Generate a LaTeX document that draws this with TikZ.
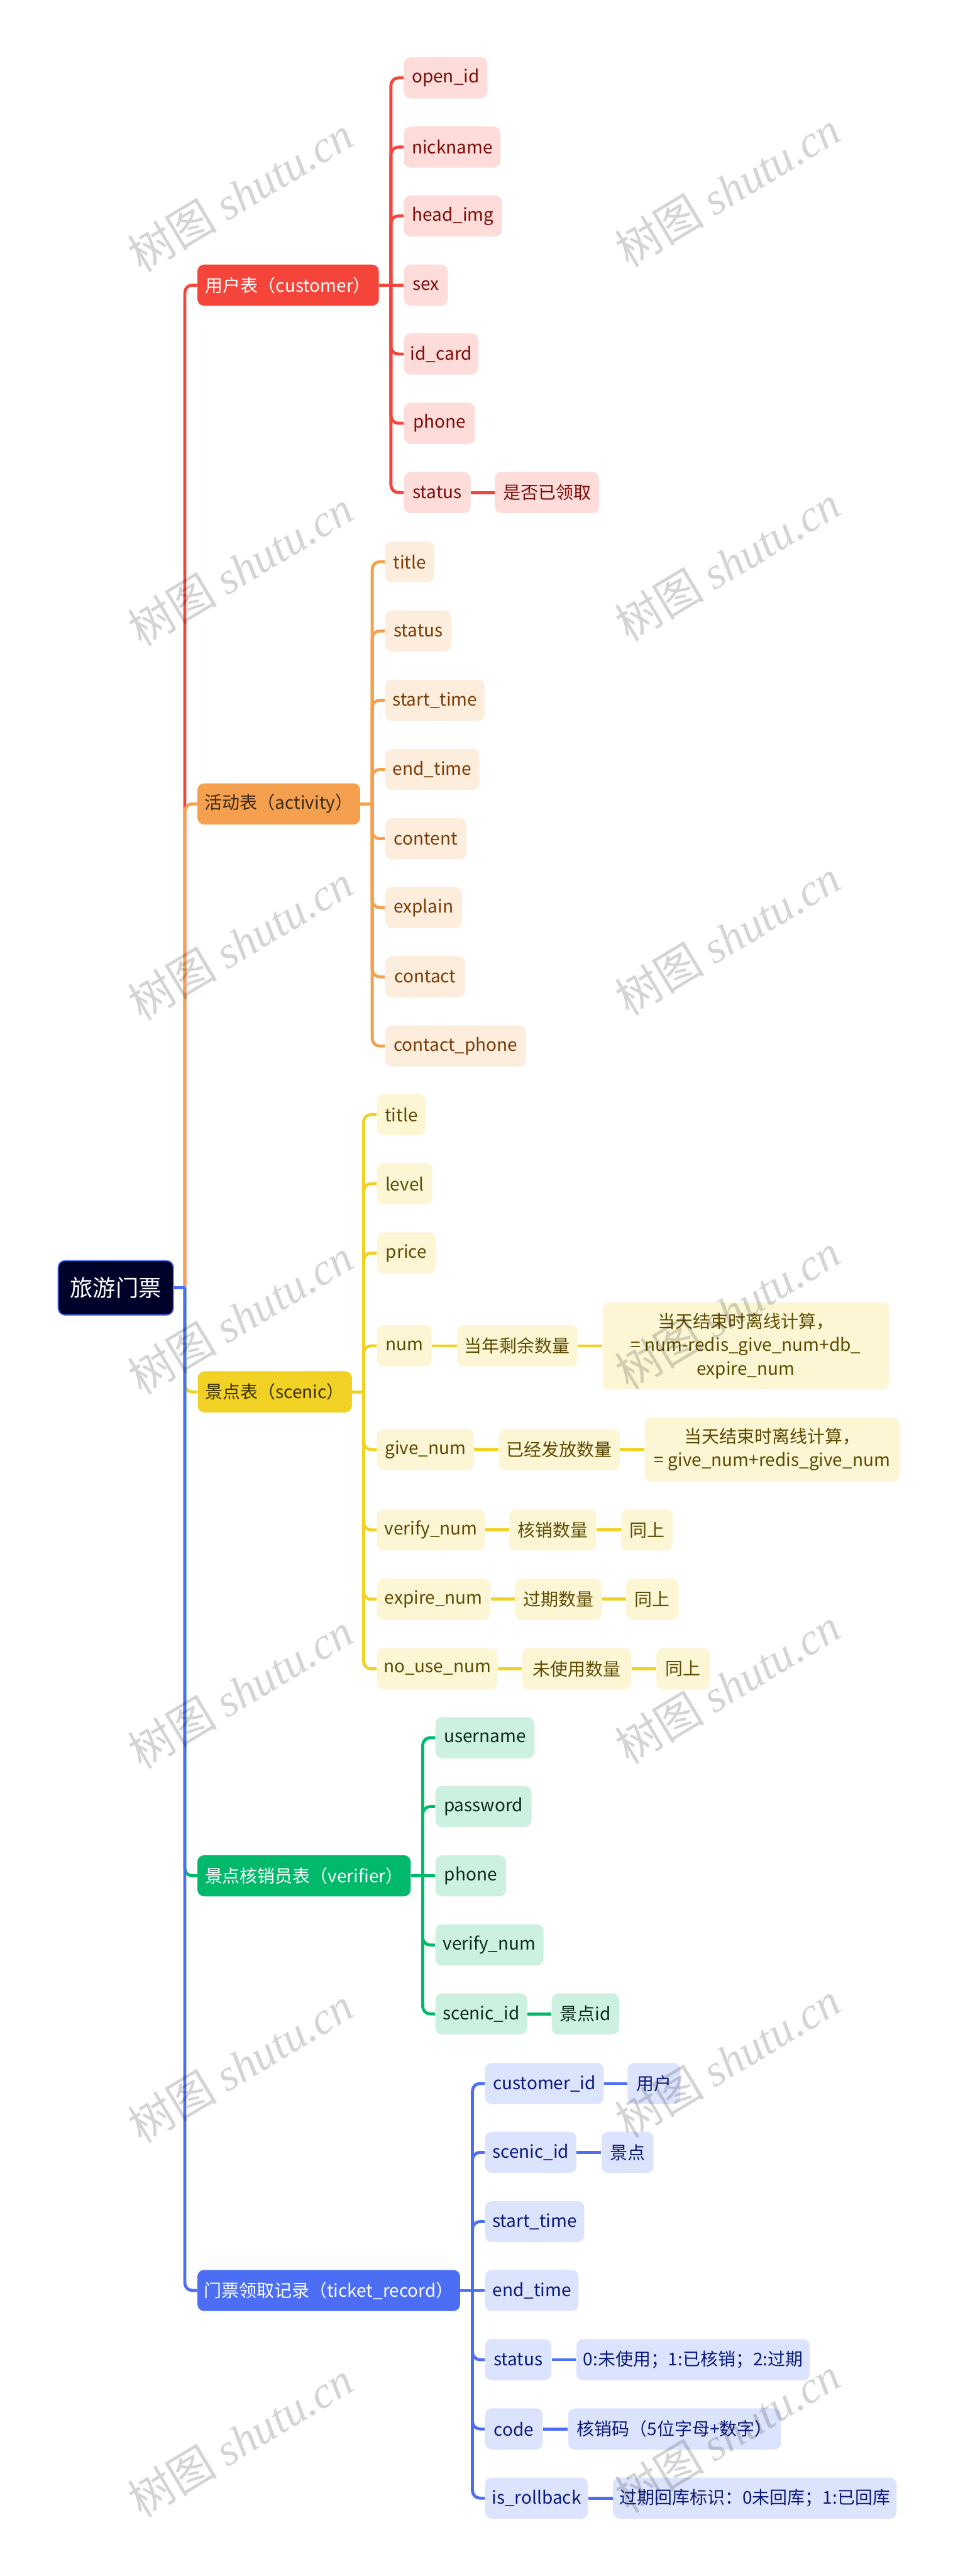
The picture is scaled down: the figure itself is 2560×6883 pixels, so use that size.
\documentclass[tikz,border=0pt]{standalone}
\usepackage{fontspec}
\setmainfont{Noto Sans CJK SC}
\newfontfamily\wmser{Liberation Serif}
\definecolor{redC}{HTML}{F5443A}
\definecolor{redL}{HTML}{FDDCDA}
\definecolor{redT}{HTML}{7D0B07}
\definecolor{oraC}{HTML}{F4A04E}
\definecolor{oraL}{HTML}{FDEDDD}
\definecolor{oraT}{HTML}{7A3B05}
\definecolor{oraB}{HTML}{3B2A15}
\definecolor{yelC}{HTML}{F0D124}
\definecolor{yelL}{HTML}{FCF6D5}
\definecolor{yelT}{HTML}{5C4A00}
\definecolor{yelB}{HTML}{3A3000}
\definecolor{grnC}{HTML}{00B96B}
\definecolor{grnL}{HTML}{CCF1E1}
\definecolor{grnT}{HTML}{0E2A1E}
\definecolor{bluC}{HTML}{4B6EF5}
\definecolor{bluL}{HTML}{DCE3FD}
\definecolor{bluT}{HTML}{0A1A7A}
\definecolor{rootF}{HTML}{000229}
\newcommand\mnode[6]{\node[#2,anchor=west,minimum width={(#4-#3)*0.25pt}] (#1) at (#3,#5) {#6};}
\tikzset{
  box/.style={rounded corners=4.5pt, inner sep=0pt, minimum height=27.5pt,
    font=\fontsize{11.75}{15.75}\selectfont, align=center},
  rootbox/.style={box, fill=rootF, draw=bluC, line width=0.75pt, text=white,
    minimum height=36.25pt, font=\fontsize{15.25}{18}\selectfont},
  redB/.style={box, fill=redC, text=white},
  redK/.style={box, fill=redL, text=redT},
  oraBx/.style={box, fill=oraC, text=oraB},
  oraK/.style={box, fill=oraL, text=oraT},
  yelBx/.style={box, fill=yelC, text=yelB},
  yelK/.style={box, fill=yelL, text=yelT},
  grnB/.style={box, fill=grnC, text=white},
  grnK/.style={box, fill=grnL, text=grnT},
  bluB/.style={box, fill=bluC, text=white},
  bluK/.style={box, fill=bluL, text=bluT},
  conn/.style={line width=2pt, rounded corners=5pt},
  wm/.style={text=black, opacity=0.17, rotate=31, inner sep=0pt,
    font=\fontsize{30}{30}\selectfont},
}
\begin{document}
\begin{tikzpicture}[x=0.25pt,y=-0.25pt]
\fill[white] (0,0) rectangle (2560,6883);
\useasboundingbox (0,0) rectangle (2560,6883);

% root and branches
\mnode{root}{rootbox}{154}{462}{3441}{旅游门票}
\mnode{cust}{redB}{527}{1012}{762}{用户表（customer）}
\mnode{act}{oraBx}{527}{962}{2148}{活动表（activity）}
\mnode{scen}{yelBx}{528}{940}{3719}{景点表（scenic）}
\mnode{ver}{grnB}{527}{1097}{5012}{景点核销员表（verifier）}
\mnode{tick}{bluB}{527}{1229}{6120}{门票领取记录（ticket\_record）}

% customer children
\mnode{c1}{redK}{1079}{1302}{208}{open\_id}
\mnode{c2}{redK}{1079}{1337}{393}{nickname}
\mnode{c3}{redK}{1079}{1341}{577}{head\_img}
\mnode{c4}{redK}{1079}{1196}{762}{sex}
\mnode{c5}{redK}{1079}{1278}{946}{id\_card}
\mnode{c6}{redK}{1079}{1269}{1131}{phone}
\mnode{c7}{redK}{1079}{1257}{1316}{status}
\mnode{c7a}{redK}{1322}{1601}{1316}{是否已领取}

% activity children
\mnode{a1}{oraK}{1029}{1160}{1501}{title}
\mnode{a2}{oraK}{1029}{1206}{1686}{status}
\mnode{a3}{oraK}{1029}{1295}{1871}{start\_time}
\mnode{a4}{oraK}{1029}{1280}{2056}{end\_time}
\mnode{a5}{oraK}{1029}{1246}{2241}{content}
\mnode{a6}{oraK}{1029}{1234}{2425}{explain}
\mnode{a7}{oraK}{1029}{1243}{2610}{contact}
\mnode{a8}{oraK}{1029}{1405}{2795}{contact\_phone}

% scenic children
\mnode{s1}{yelK}{1007}{1137}{2978}{title}
\mnode{s2}{yelK}{1007}{1155}{3163}{level}
\mnode{s3}{yelK}{1007}{1164}{3348}{price}
\mnode{s4}{yelK}{1007}{1153}{3596}{num}
\mnode{s4a}{yelK}{1221}{1543}{3596}{当年剩余数量}
\mnode{s4b}{yelK, minimum height=58.25pt}{1610}{2376}{3596}{当天结束时离线计算，\\= num-redis\_give\_num+db\_\\expire\_num}
\mnode{s5}{yelK}{1007}{1266}{3873}{give\_num}
\mnode{s5a}{yelK}{1333}{1656}{3873}{已经发放数量}
\mnode{s5b}{yelK, minimum height=42.75pt}{1723}{2404}{3873}{当天结束时离线计算，\\= give\_num+redis\_give\_num}
\mnode{s6}{yelK}{1007}{1296}{4088}{verify\_num}
\mnode{s6a}{yelK}{1361}{1593}{4088}{核销数量}
\mnode{s6b}{yelK}{1660}{1798}{4088}{同上}
\mnode{s7}{yelK}{1007}{1310}{4273}{expire\_num}
\mnode{s7a}{yelK}{1376}{1608}{4273}{过期数量}
\mnode{s7b}{yelK}{1673}{1813}{4273}{同上}
\mnode{s8}{yelK}{1007}{1329}{4459}{no\_use\_num}
\mnode{s8a}{yelK}{1395}{1687}{4459}{未使用数量}
\mnode{s8b}{yelK}{1754}{1897}{4459}{同上}

% verifier children
\mnode{v1}{grnK}{1163}{1428}{4643}{username}
\mnode{v2}{grnK}{1163}{1420}{4827}{password}
\mnode{v3}{grnK}{1163}{1352}{5012}{phone}
\mnode{v4}{grnK}{1163}{1452}{5197}{verify\_num}
\mnode{v5}{grnK}{1163}{1408}{5381}{scenic\_id}
\mnode{v5a}{grnK}{1474}{1654}{5381}{景点id}

% ticket children
\mnode{t1}{bluK}{1296}{1613}{5567}{customer\_id}
\mnode{t1a}{bluK}{1677}{1818}{5567}{用户}
\mnode{t2}{bluK}{1296}{1540}{5751}{scenic\_id}
\mnode{t2a}{bluK}{1607}{1746}{5751}{景点}
\mnode{t3}{bluK}{1296}{1561}{5936}{start\_time}
\mnode{t4}{bluK}{1296}{1546}{6120}{end\_time}
\mnode{t5}{bluK}{1296}{1473}{6305}{status}
\mnode{t5a}{bluK}{1540}{2164}{6305}{0:未使用；1:已核销；2:过期}
\mnode{t6}{bluK}{1296}{1450}{6490}{code}
\mnode{t6a}{bluK}{1518}{2087}{6490}{核销码（5位字母+数字）}
\mnode{t7}{bluK}{1296}{1571}{6675}{is\_rollback}
\mnode{t7a}{bluK}{1638}{2396}{6675}{过期回库标识：0未回库；1:已回库}

% junctions
\coordinate (jr) at (494,3441);
\coordinate (jc) at (1045,762);
\coordinate (ja) at (995,2148);
\coordinate (js) at (972,3719);
\coordinate (jv) at (1130,5012);
\coordinate (jt) at (1263,6120);

% root to branches
\draw[conn, redC] (jr) |- (cust.west);
\draw[conn, oraC] (jr) |- (act.west);
\draw[conn, yelC] (jr) |- (scen.west);
\draw[conn, grnC] (jr) |- (ver.west);
\draw[conn, bluC] (jr) |- (tick.west);
\draw[conn, bluC] (root.east) -- (jr);

% customer
\draw[conn, redC] (cust.east) -- (c4.west);
\foreach \n in {c1,c2,c3,c5,c6,c7} \draw[conn, redC] (jc) |- (\n.west);
\draw[conn, redC] (c7.east) -- (c7a.west);

% activity
\draw[conn, oraC] (act.east) -- (ja);
\foreach \n in {a1,a2,a3,a4,a5,a6,a7,a8} \draw[conn, oraC] (ja) |- (\n.west);

% scenic
\draw[conn, yelC] (scen.east) -- (js);
\foreach \n in {s1,s2,s3,s4,s5,s6,s7,s8} \draw[conn, yelC] (js) |- (\n.west);
\draw[conn, yelC] (s4.east) -- (s4a.west);
\draw[conn, yelC] (s4a.east) -- (s4b.west);
\draw[conn, yelC] (s5.east) -- (s5a.west);
\draw[conn, yelC] (s5a.east) -- (s5b.west);
\draw[conn, yelC] (s6.east) -- (s6a.west);
\draw[conn, yelC] (s6a.east) -- (s6b.west);
\draw[conn, yelC] (s7.east) -- (s7a.west);
\draw[conn, yelC] (s7a.east) -- (s7b.west);
\draw[conn, yelC] (s8.east) -- (s8a.west);
\draw[conn, yelC] (s8a.east) -- (s8b.west);

% verifier
\draw[conn, grnC] (ver.east) -- (v3.west);
\foreach \n in {v1,v2,v4,v5} \draw[conn, grnC] (jv) |- (\n.west);
\draw[conn, grnC] (v5.east) -- (v5a.west);

% ticket
\draw[conn, bluC] (tick.east) -- (t4.west);
\foreach \n in {t1,t2,t3,t5,t6,t7} \draw[conn, bluC] (jt) |- (\n.west);
\draw[conn, bluC] (t1.east) -- (t1a.west);
\draw[conn, bluC] (t2.east) -- (t2a.west);
\draw[conn, bluC] (t5.east) -- (t5a.west);
\draw[conn, bluC] (t6.east) -- (t6a.west);
\draw[conn, bluC] (t7.east) -- (t7a.west);

% watermarks
\foreach \i/\y in {1/518,2/1518,3/2518,4/3518,5/4518,6/5518,7/6518}
  \node[wm] (wl\i) at (642,\y) {树图 {\wmser\itshape shutu.cn}};
\foreach \i/\y in {1/505,2/1505,3/2505,4/3505,5/4505,6/5505,7/6505}
  \node[wm] (wr\i) at (1945,\y) {树图 {\wmser\itshape shutu.cn}};
\end{tikzpicture}
\end{document}
